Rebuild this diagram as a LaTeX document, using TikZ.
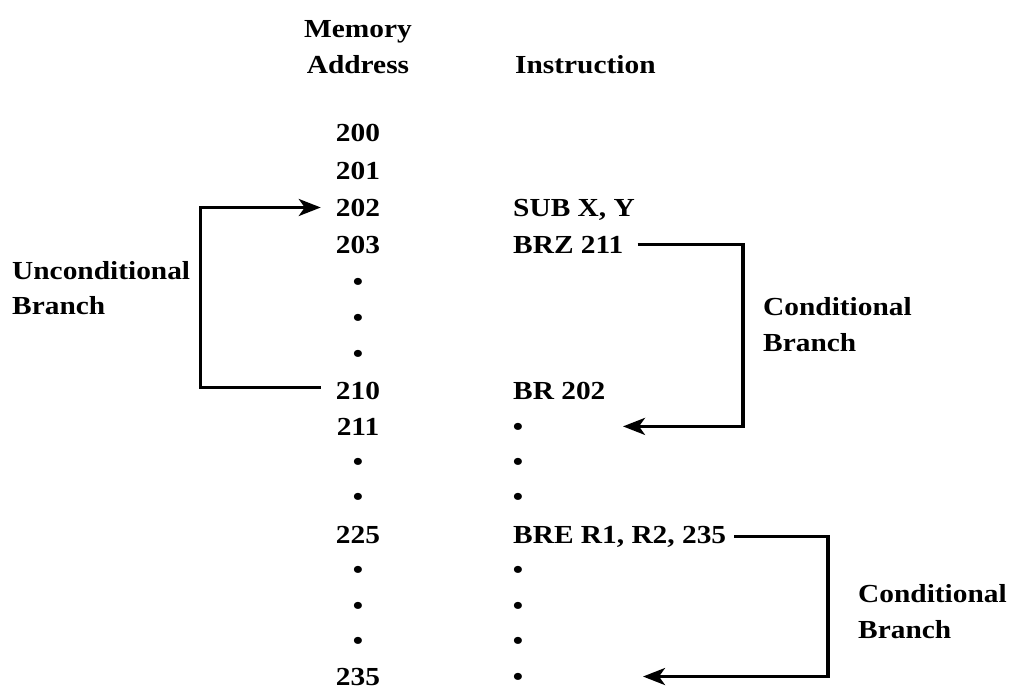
\documentclass[tikz,border=0pt]{standalone}
\usepackage{fontspec}
\setmainfont{Liberation Serif}[FakeStretch=1.13]
\usetikzlibrary{arrows.meta,calc}
\begin{document}
\begin{tikzpicture}[x=1pt,y=-1pt,
  txt/.style={inner sep=0pt,font=\fontsize{26}{30}\selectfont\bfseries},
  addr/.style={txt,anchor=base},
  instr/.style={txt,anchor=base west},
  dotnode/.style={txt,anchor=base},
  lbl/.style={txt,anchor=base west},
  arr/.style={line width=3.2pt,-{Stealth[length=22pt,width=17pt,inset=6pt]}}]
\useasboundingbox (0,0) rectangle (1014,689);
% headers
\node[addr] (hmem) at (358,37) {Memory};
\node[addr] (hadd) at (358,73) {Address};
\node[instr] (hins) at (515,73) {Instruction};
% address column
\node[addr] (a200) at (358,141) {200};
\node[addr] (a201) at (358,179) {201};
\node[addr] (a202) at (358,216) {202};
\node[addr] (a203) at (358,253) {203};
\node[dotnode] (ad1) at (358,290) {•};
\node[dotnode] (ad2) at (358,326) {•};
\node[dotnode] (ad3) at (358,362) {•};
\node[addr] (a210) at (358,399) {210};
\node[addr] (a211) at (358,435) {211};
\node[dotnode] (ad4) at (358,470) {•};
\node[dotnode] (ad5) at (358,505) {•};
\node[addr] (a225) at (358,543) {225};
\node[dotnode] (ad6) at (358,578) {•};
\node[dotnode] (ad7) at (358,614) {•};
\node[dotnode] (ad8) at (358,649) {•};
\node[addr] (a235) at (358,685) {235};
% instruction column
\node[instr] (i202) at (513,216) {SUB X, Y};
\node[instr] (i203) at (513,253) {BRZ 211};
\node[instr] (i210) at (513,399) {BR 202};
\node[dotnode] (d211) at (518,435) {•};
\node[dotnode] (d1) at (518,470) {•};
\node[dotnode] (d2) at (518,505) {•};
\node[instr] (i225) at (513,543) {BRE R1, R2, 235};
\node[dotnode] (d3) at (518,578) {•};
\node[dotnode] (d4) at (518,614) {•};
\node[dotnode] (d5) at (518,649) {•};
\node[dotnode] (d235) at (518,685) {•};
% labels
\node[lbl] (u1) at (12,279) {Unconditional};
\node[lbl] (u2) at (12,314) {Branch};
\node[lbl] (c1) at (763,315) {Conditional};
\node[lbl] (c2) at (763,351) {Branch};
\node[lbl] (c3) at (858,602) {Conditional};
\node[lbl] (c4) at (858,638) {Branch};
% connectors
\draw[arr] ([xshift=-15pt,yshift=3pt]a210.west) -- ++(-120,0) |- ([xshift=-15pt]a202.west);
\draw[arr] ([xshift=14pt]i203.east) -- ($(i203.east -| c1.west)+(-20,0)$) |- ($(d211.center |- a211.center)+(105,0)$);
\draw[arr] ([xshift=8pt]i225.east) -- ($(i225.east -| c3.west)+(-30,0)$) |- ($(d235.center |- a235.center)+(125,0)$);
\end{tikzpicture}
\end{document}
